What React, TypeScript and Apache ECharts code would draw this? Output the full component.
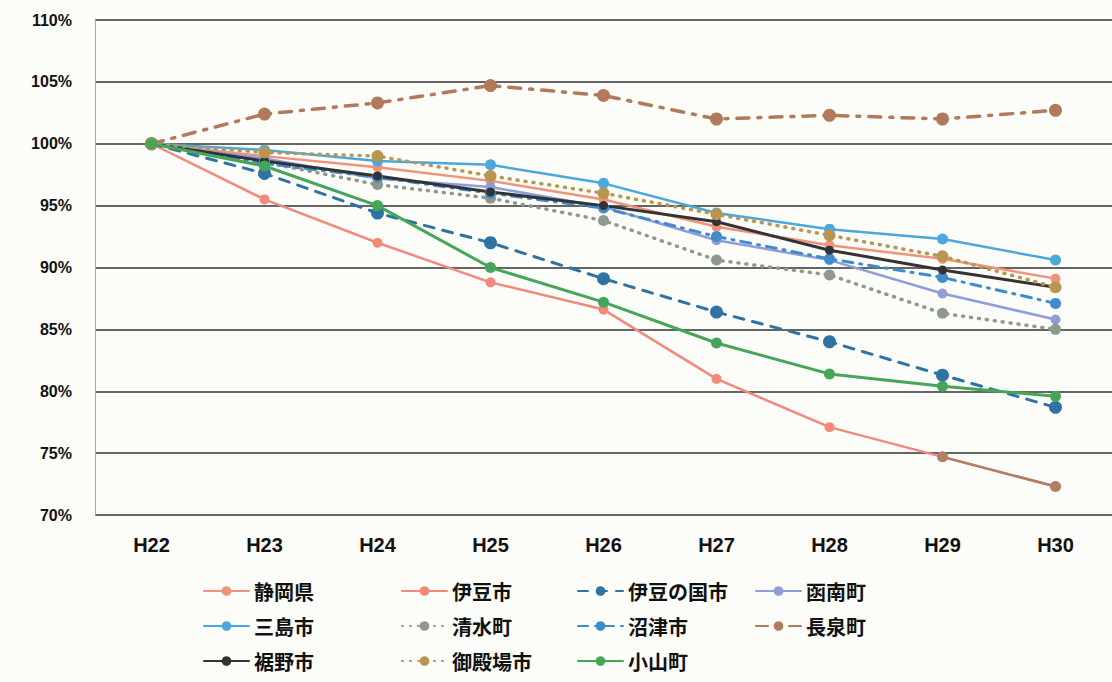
import React, { useEffect, useRef } from "react";
import * as echarts from "echarts";

const categories = ["H22", "H23", "H24", "H25", "H26", "H27", "H28", "H29", "H30"];
const yTicks = [70, 75, 80, 85, 90, 95, 100, 105, 110];

const shizuokaKen = [100, 99.0, 98.1, 97.0, 95.5, 93.3, 91.8, 90.7, 89.1];
const izuShi = [100, 95.5, 92.0, 88.8, 86.6, 81.0, 77.1, 74.7, 72.3];
const izunokuniShi = [100, 97.6, 94.4, 92.0, 89.1, 86.4, 84.0, 81.3, 78.7];
const kannamiCho = [100, 98.8, 97.2, 96.5, 94.9, 92.2, 90.6, 87.9, 85.8];
const mishimaShi = [100, 99.5, 98.6, 98.3, 96.8, 94.4, 93.1, 92.3, 90.6];
const shimizuCho = [100, 98.5, 96.7, 95.6, 93.8, 90.6, 89.4, 86.3, 85.0];
const numazuShi = [100, 98.4, 97.3, 96.0, 94.8, 92.5, 90.7, 89.2, 87.1];
const nagaizumiCho = [100, 102.4, 103.3, 104.7, 103.9, 102.0, 102.3, 102.0, 102.7];
const susonoShi = [100, 98.6, 97.4, 96.1, 95.0, 93.7, 91.4, 89.8, 88.4];
const gotenbaShi = [100, 99.3, 99.0, 97.4, 96.0, 94.3, 92.6, 90.9, 88.4];
const oyamaCho = [100, 98.2, 95.0, 90.0, 87.2, 83.9, 81.4, 80.4, 79.6];

const legendCols = [
  ["静岡県", "三島市", "裾野市"],
  ["伊豆市", "清水町", "御殿場市"],
  ["伊豆の国市", "沼津市", "小山町"],
  ["函南町", "長泉町"],
];

export default function App() {
  const ref = useRef<HTMLDivElement>(null);
  useEffect(() => {
    if (!ref.current) return;
    const chart = echarts.init(ref.current, null, { renderer: "svg" });
    const mk = (name: string, data: any[], color: string, type: any, width: number, size: number, extra: any = {}) => ({
      name,
      type: "line",
      data,
      symbol: "circle",
      symbolSize: size,
      itemStyle: { color },
      lineStyle: { color, type, width, cap: "round" },
      ...extra,
    });
    const izuTail = izuShi.map((v, i) => (i >= 7 ? v : "-"));
    const option: any = {
      animation: false,
      backgroundColor: "#fcfcf8",
      textStyle: { fontFamily: "'Noto Sans CJK JP', 'Liberation Sans', sans-serif" },
      grid: { left: 95, right: 0, top: 20, bottom: 167 },
      xAxis: {
        type: "category",
        data: categories,
        boundaryGap: true,
        axisLine: { show: false },
        axisTick: { show: false },
        axisLabel: { color: "#111", fontSize: 20, fontWeight: "bold", margin: 20, fontFamily: "'Liberation Sans', Arial, sans-serif" },
      },
      yAxis: {
        type: "value",
        min: 70,
        max: 110,
        interval: 5,
        axisLine: { show: true, lineStyle: { color: "#aaa", width: 1 } },
        axisTick: { show: false },
        axisLabel: {
          color: "#111",
          fontSize: 16,
          fontWeight: "bold",
          margin: 23,
          fontFamily: "'Liberation Sans', Arial, sans-serif",
          formatter: (v: number) => (yTicks.includes(v) ? v + "%" : ""),
        },
        splitLine: { lineStyle: { color: "#333", width: 1.5 } },
      },
      legend: legendCols.map((col, i) => ({
        data: col,
        orient: "vertical",
        left: [198, 396, 572, 750][i],
        top: 576,
        itemWidth: 45,
        itemHeight: 12,
        itemGap: 15,
        textStyle: { fontSize: 20, fontWeight: "bold", color: "#111", fontFamily: "'Noto Sans CJK JP', sans-serif" },
      })),
      series: [
        mk("静岡県", shizuokaKen, "#f0937a", "solid", 2.5, 10),
        mk("伊豆市", izuShi, "#f2897b", "solid", 2.5, 10),
        mk("伊豆市(H29-H30)", izuTail, "#b07f66", "solid", 2.5, 11),
        mk("伊豆の国市", izunokuniShi, "#2f73a5", [10, 9], 3, 13),
        mk("函南町", kannamiCho, "#8f9ed8", "solid", 2.5, 10),
        mk("三島市", mishimaShi, "#4ba8dd", "solid", 2.5, 11),
        mk("清水町", shimizuCho, "#8e998e", [1, 7], 3.5, 11),
        mk("沼津市", numazuShi, "#3f8bcb", [10, 7, 2, 7], 3, 11),
        mk("長泉町", nagaizumiCho, "#b07a5b", [12, 9, 3, 9], 3.5, 13),
        mk("裾野市", susonoShi, "#333333", "solid", 3, 9),
        mk("御殿場市", gotenbaShi, "#b8964f", [1, 7], 3.5, 12),
        mk("小山町", oyamaCho, "#45a65a", "solid", 3, 11),
      ],
    };
    chart.setOption(option);
    return () => chart.dispose();
  }, []);
  return <div ref={ref} style={{ width: 1112, height: 682, position: "absolute", left: 0, top: 0 }} />;
}
